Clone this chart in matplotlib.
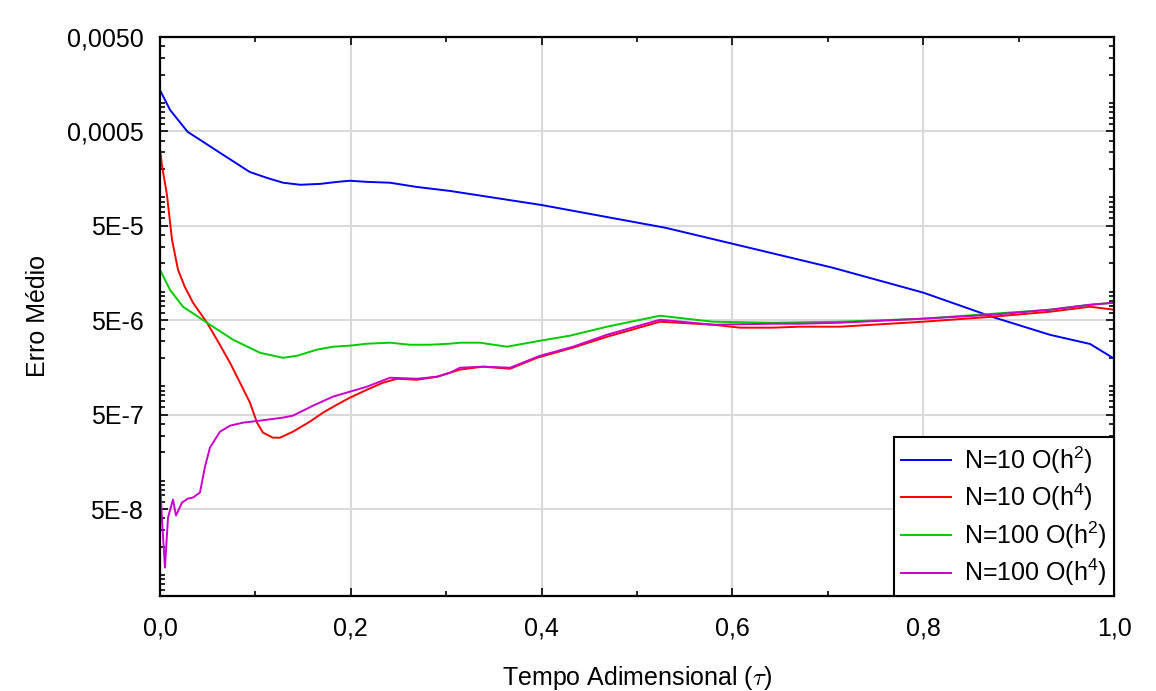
import matplotlib
matplotlib.use('Agg')
import matplotlib.pyplot as plt
from matplotlib.ticker import FixedLocator, LogLocator, MultipleLocator, NullFormatter

# Data
x_n10_h2 = [0, 0.0105, 0.029, 0.042, 0.063, 0.094, 0.112, 0.129, 0.147, 0.168, 0.186,
            0.199, 0.217, 0.241, 0.269, 0.304, 0.40, 0.53, 0.60, 0.705, 0.80, 0.873,
            0.933, 0.975, 1.0]
y_n10_h2 = [1.37e-3, 8.45e-4, 4.94e-4, 4.07e-4, 2.96e-4, 1.86e-4, 1.61e-4, 1.43e-4,
            1.36e-4, 1.39e-4, 1.46e-4, 1.50e-4, 1.46e-4, 1.43e-4, 1.29e-4, 1.17e-4,
            8.3e-5, 4.76e-5, 3.23e-5, 1.80e-5, 9.8e-6, 5.4e-6, 3.5e-6, 2.8e-6, 1.96e-6]

x_n10_h4 = [0, 0.002, 0.0073, 0.0126, 0.0189, 0.026, 0.0346, 0.0493, 0.0597, 0.0734,
            0.0839, 0.0943, 0.1017, 0.108, 0.1184, 0.1258, 0.1394, 0.1572, 0.1709,
            0.1855, 0.1992, 0.217, 0.2338, 0.2484, 0.2694, 0.2904, 0.304, 0.3145,
            0.3386, 0.3669, 0.3952, 0.4329, 0.4686, 0.5241, 0.5797, 0.608, 0.6426,
            0.6709, 0.7128, 0.7998, 0.8732, 0.9329, 0.9748, 1.0]
y_n10_h4 = [3.3e-4, 2.2e-4, 1.06e-4, 3.56e-5, 1.71e-5, 1.13e-5, 7.66e-6, 4.70e-6,
            3.11e-6, 1.77e-6, 1.09e-6, 6.70e-7, 4.11e-7, 3.22e-7, 2.85e-7, 2.85e-7,
            3.30e-7, 4.22e-7, 5.25e-7, 6.38e-7, 7.57e-7, 9.19e-7, 1.09e-6, 1.20e-6,
            1.17e-6, 1.26e-6, 1.39e-6, 1.50e-6, 1.61e-6, 1.53e-6, 2.00e-6, 2.56e-6,
            3.34e-6, 4.82e-6, 4.48e-6, 4.17e-6, 4.17e-6, 4.27e-6, 4.27e-6, 4.82e-6,
            5.45e-6, 6.15e-6, 6.95e-6, 6.46e-6]

x_n100_h2 = [0, 0.0105, 0.0241, 0.0493, 0.0765, 0.1048, 0.1289, 0.1436, 0.1646, 0.1813,
             0.1992, 0.217, 0.2411, 0.2621, 0.283, 0.304, 0.3145, 0.3354, 0.3637,
             0.3983, 0.4298, 0.4686, 0.5241, 0.5797, 0.6426, 0.7128, 0.7998, 0.8732,
             0.9329, 0.9748, 1.0]
y_n100_h2 = [1.71e-5, 1.05e-5, 6.95e-6, 4.70e-6, 3.11e-6, 2.26e-6, 2.00e-6, 2.10e-6,
             2.44e-6, 2.62e-6, 2.69e-6, 2.82e-6, 2.89e-6, 2.75e-6, 2.75e-6, 2.82e-6,
             2.89e-6, 2.89e-6, 2.62e-6, 3.03e-6, 3.43e-6, 4.27e-6, 5.58e-6, 4.82e-6,
             4.70e-6, 4.82e-6, 5.19e-6, 5.86e-6, 6.46e-6, 7.29e-6, 7.66e-6]

x_n100_h4 = [0, 0.0021, 0.0052, 0.0084, 0.0136, 0.0168, 0.0231, 0.0294, 0.0346, 0.0419,
             0.0472, 0.0524, 0.0629, 0.0734, 0.087, 0.1048, 0.1289, 0.1394, 0.1604,
             0.1813, 0.1992, 0.217, 0.2411, 0.2694, 0.2904, 0.304, 0.3145, 0.3386,
             0.3669, 0.3983, 0.4329, 0.4686, 0.5241, 0.5797, 0.6426, 0.6709, 0.7128,
             0.7998, 0.8732, 0.9329, 0.9748, 1.0]
y_n100_h4 = [9.77e-8, 3.87e-8, 1.20e-8, 4.06e-8, 6.30e-8, 4.27e-8, 5.86e-8, 6.46e-8,
             6.62e-8, 7.48e-8, 1.41e-7, 2.24e-7, 3.30e-7, 3.82e-7, 4.11e-7, 4.32e-7,
             4.65e-7, 4.88e-7, 6.22e-7, 7.75e-7, 8.76e-7, 9.89e-7, 1.23e-6, 1.20e-6,
             1.26e-6, 1.39e-6, 1.57e-6, 1.61e-6, 1.57e-6, 2.10e-6, 2.62e-6, 3.51e-6,
             5.06e-6, 4.48e-6, 4.59e-6, 4.59e-6, 4.70e-6, 5.19e-6, 5.72e-6, 6.46e-6,
             7.29e-6, 7.66e-6]

y_ticks = [5e-8, 5e-7, 5e-6, 5e-5, 5e-4, 5e-3]
y_tick_labels = ['5E-8', '5E-7', '5E-6', '5E-5', '0,0005', '0,0050']
x_ticks = [0.0, 0.2, 0.4, 0.6, 0.8, 1.0]
x_tick_labels = ['0,0', '0,2', '0,4', '0,6', '0,8', '1,0']

plt.rcParams['font.family'] = ['Liberation Sans', 'DejaVu Sans']
plt.rcParams['font.size'] = 18

fig = plt.figure(figsize=(11.56, 6.91), dpi=100)
ax = fig.add_axes([0.1384, 0.1375, 0.8253, 0.809])

lw = 1.4
ax.plot(x_n10_h2, y_n10_h2, color='#0000ff', lw=lw, label=r'N=10 O(h$\mathregular{^2}$)')
ax.plot(x_n10_h4, y_n10_h4, color='#ff0000', lw=lw, label=r'N=10 O(h$\mathregular{^4}$)')
ax.plot(x_n100_h2, y_n100_h2, color='#00cc00', lw=lw, label=r'N=100 O(h$\mathregular{^2}$)')
ax.plot(x_n100_h4, y_n100_h4, color='#cc00cc', lw=lw, label=r'N=100 O(h$\mathregular{^4}$)')

ax.set_yscale('log')
ax.set_xlim(0, 1.0)
ax.set_ylim(6e-9, 5e-3)

ax.yaxis.set_major_locator(FixedLocator(y_ticks))
ax.set_yticklabels(y_tick_labels)
ax.yaxis.set_minor_locator(LogLocator(base=10, subs=range(1, 10), numticks=50))
ax.yaxis.set_minor_formatter(NullFormatter())

ax.set_xticks(x_ticks)
ax.set_xticklabels(x_tick_labels)
ax.xaxis.set_minor_locator(MultipleLocator(0.1))

ax.tick_params(which='both', direction='in', top=True, right=True, width=1.2)
ax.tick_params(which='major', length=6)
ax.tick_params(which='minor', length=3.5)
ax.tick_params(axis='y', which='major', pad=12)
ax.tick_params(axis='x', which='major', pad=15)

ax.grid(True, which='major', color='#d9d9d9', lw=1.5)
ax.set_axisbelow(True)
for sp in ax.spines.values():
    sp.set_linewidth(1.6)

ax.set_xlabel(r'Tempo Adimensional ($\tau$)', labelpad=16.5, math_fontfamily='cm')
ax.set_ylabel('Erro Médio', labelpad=12)

leg = ax.legend(loc='lower right', borderaxespad=0, fancybox=False, framealpha=1,
                edgecolor='black', fontsize=18, labelspacing=0.25, handletextpad=0.5,
                borderpad=0.3)
leg.get_frame().set_linewidth(1.5)

fig.savefig('out.png', dpi=100)
